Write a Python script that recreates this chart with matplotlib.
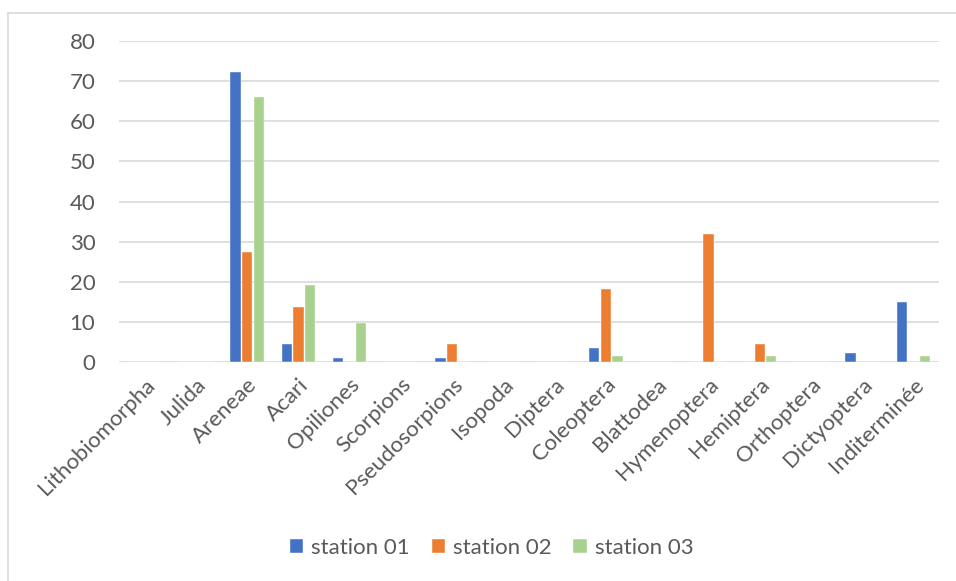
import matplotlib
matplotlib.use("Agg")
import matplotlib.pyplot as plt
from matplotlib.lines import Line2D
import numpy as np

# Orders and relative abundance (%) per station
orders = [
    "Lithobiomorpha", "Julida", "Areneae", "Acari", "Opiliones", "Scorpions",
    "Pseudosorpions", "Isopoda", "Diptera", "Coleoptera", "Blattodea",
    "Hymenoptera", "Hemiptera", "Orthoptera", "Dictyoptera", "Inditerminée",
]
station_01 = [0, 0, 72.2, 4.5, 1.1, 0, 1.1, 0, 0, 3.4, 0, 0, 0, 0, 2.3, 14.9]
station_02 = [0, 0, 27.3, 13.6, 0, 0, 4.5, 0, 0, 18.2, 0, 31.8, 4.5, 0, 0, 0]
station_03 = [0, 0, 66.1, 19.2, 9.6, 0, 0, 0, 0, 1.5, 0, 0, 1.5, 0, 0, 1.5]
series_labels = ["station 01", "station 02", "station 03"]
colors = ["#4472C4", "#ED7D31", "#A9D18E"]
yticks = [0, 10, 20, 30, 40, 50, 60, 70, 80]

plt.rcParams["font.family"] = ["Lato", "DejaVu Sans"]
text_color = "#595959"
grid_color = "#D9D9D9"
fs = 16

fig = plt.figure(figsize=(9.56, 5.81), dpi=100)
ax = fig.add_axes([119 / 956, 1 - 362 / 581, 820 / 956, 321 / 581])

x = np.arange(len(orders))
step = 0.225
width = 0.2
for i, (vals, lab, col) in enumerate(zip([station_01, station_02, station_03],
                                         series_labels, colors)):
    ax.bar(x + (i - 1) * step, vals, width=width, color=col, label=lab,
           edgecolor="white", linewidth=0.3, zorder=3)

ax.set_xlim(-0.5, len(orders) - 0.5)
ax.set_ylim(0, 80)
ax.set_yticks(yticks)
ax.yaxis.grid(True, color=grid_color, linewidth=1.2, zorder=0)
ax.set_axisbelow(True)
for s in ax.spines.values():
    s.set_visible(False)
ax.tick_params(axis="both", length=0, colors=text_color, labelsize=fs)
ax.tick_params(axis="y", pad=17)
ax.tick_params(axis="x", pad=9)
ax.set_xticks(x)
ax.set_xticklabels(orders, rotation=45, ha="right", va="top",
                   rotation_mode="anchor")

handles, labels = ax.get_legend_handles_labels()
fig.legend(handles, labels, loc="center", bbox_to_anchor=(0.514, 1 - 548 / 581),
           ncol=3, frameon=False, fontsize=fs, labelcolor=text_color,
           handlelength=0.6, handleheight=0.6, handletextpad=0.35,
           columnspacing=1.0)

# chart area border (left and top edges)
fig.add_artist(Line2D([7.5 / 956, 7.5 / 956], [0, 1 - 12.5 / 581],
                      transform=fig.transFigure, color=grid_color, linewidth=1.2))
fig.add_artist(Line2D([7.5 / 956, 1], [1 - 12.5 / 581, 1 - 12.5 / 581],
                      transform=fig.transFigure, color=grid_color, linewidth=1.2))

fig.savefig("out.png", dpi=100, facecolor="white")
